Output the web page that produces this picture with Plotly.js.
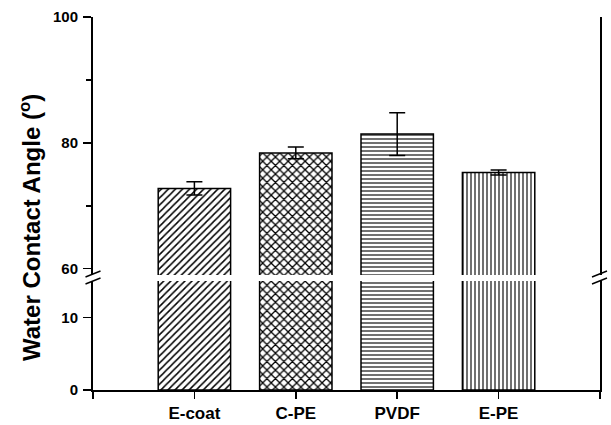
<!DOCTYPE html>
<html><head><meta charset="utf-8">
<script src="https://cdn.plot.ly/plotly-3.0.1.min.js"></script>
<style>html,body{margin:0;padding:0;background:#fff}#chart{width:611px;height:425px}</style>
</head><body><div id="chart"></div>
<script>
// ---- data ----
const categories = ["E-coat", "C-PE", "PVDF", "E-PE"];
const contactAngle = [72.75, 78.4, 81.4, 75.3];
const contactAngleErr = [1.05, 0.93, 3.4, 0.4];
const upperTickVals = [60, 80, 100];
const lowerTickVals = [0, 10];

// ---- styles ----
const patternShapes = ["/", "x", "-", "|"];
const patternSizes = [5, 6, 4, 4];
const patternSolidity = [0.3, 0.38, 0.28, 0.28];
const FONT = "Arial, 'Liberation Sans', sans-serif";
const xIdx = categories.map((c, i) => i);

// pixel helpers for decoration (axis-break marks)
const L = 93, R = 600, T = 17, B = 390;
const px = x => (x - L) / (R - L);
const py = y => (B - y) / (B - T);

function barTrace(yaxis, withErr) {
  const t = {
    type: "bar", x: xIdx, y: contactAngle, xaxis: "x", yaxis: yaxis,
    width: 0.714,
    marker: {
      color: "#ffffff",
      line: {color: "#000", width: 1.5},
      pattern: {shape: patternShapes, size: patternSizes, solidity: patternSolidity, fgcolor: "#000", bgcolor: "#fff", fillmode: "replace"}
    },
    hoverinfo: "skip", showlegend: false
  };
  if (withErr) t.error_y = {type: "data", array: contactAngleErr, visible: true, color: "#000", thickness: 1.5, width: 8};
  return t;
}

const data = [barTrace("y", false), barTrace("y2", true)];

const breakMarks = [];
[[85.5, 100.5], [592, 607]].forEach(([x0, x1]) => {
  [[277, 271], [284, 278]].forEach(([y0, y1]) => {
    breakMarks.push({type: "line", xref: "paper", yref: "paper",
      x0: px(x0), x1: px(x1), y0: py(y0), y1: py(y1), line: {color: "#000", width: 1.5}});
  });
});

const layout = {
  width: 611, height: 425,
  margin: {l: L, r: 611 - R, t: T, b: 425 - B},
  paper_bgcolor: "#fff", plot_bgcolor: "#fff",
  font: {family: FONT, color: "#000"},
  bargap: 0,
  xaxis: {
    range: [-1, 4], anchor: "y",
    tickvals: xIdx,
    ticktext: categories,
    ticks: "outside", ticklen: 7, tickwidth: 1.5, tickcolor: "#000",
    minor: {tick0: -1, dtick: 5, ticks: "outside", ticklen: 7, tickwidth: 1.5, tickcolor: "#000", showgrid: false},
    showline: true, linecolor: "#000", linewidth: 2,
    showgrid: false, zeroline: false,
    tickfont: {family: FONT, size: 17, weight: 700, color: "#000"}
  },
  xaxis2: {
    range: [-1, 4], overlaying: "x", anchor: "y2", side: "top",
    showline: true, linecolor: "#000", linewidth: 2,
    showticklabels: false, ticks: "", showgrid: false, zeroline: false
  },
  yaxis: {
    domain: [0, (B - 281) / (B - T)], range: [0, 15],
    tickvals: lowerTickVals,
    ticks: "outside", ticklen: 8, tickwidth: 1.5, tickcolor: "#000",
    showline: true, mirror: true, linecolor: "#000", linewidth: 2,
    showgrid: false, zeroline: false,
    tickfont: {family: FONT, size: 15, weight: 700, color: "#000"},
    ticklabelstandoff: 2
  },
  yaxis2: {
    domain: [(B - 275) / (B - T), 1], range: [59, 100], anchor: "x",
    tickvals: upperTickVals,
    ticks: "outside", ticklen: 8, tickwidth: 1.5, tickcolor: "#000",
    minor: {dtick: 10, tick0: 60, ticks: "outside", ticklen: 5, tickwidth: 1.5, tickcolor: "#000"},
    showline: true, mirror: true, linecolor: "#000", linewidth: 2,
    showgrid: false, zeroline: false,
    tickfont: {family: FONT, size: 15, weight: 700, color: "#000"},
    ticklabelstandoff: 2
  },
  shapes: breakMarks,
  annotations: [{
    text: "Water Contact Angle (<sup>o</sup>)", textangle: -90,
    xref: "paper", yref: "paper", x: px(30), y: py(228),
    xanchor: "center", yanchor: "middle", showarrow: false,
    font: {family: FONT, size: 24, weight: 700, color: "#000"}
  }]
};

Plotly.newPlot("chart", data, layout, {staticPlot: true, displayModeBar: false});
</script></body></html>
